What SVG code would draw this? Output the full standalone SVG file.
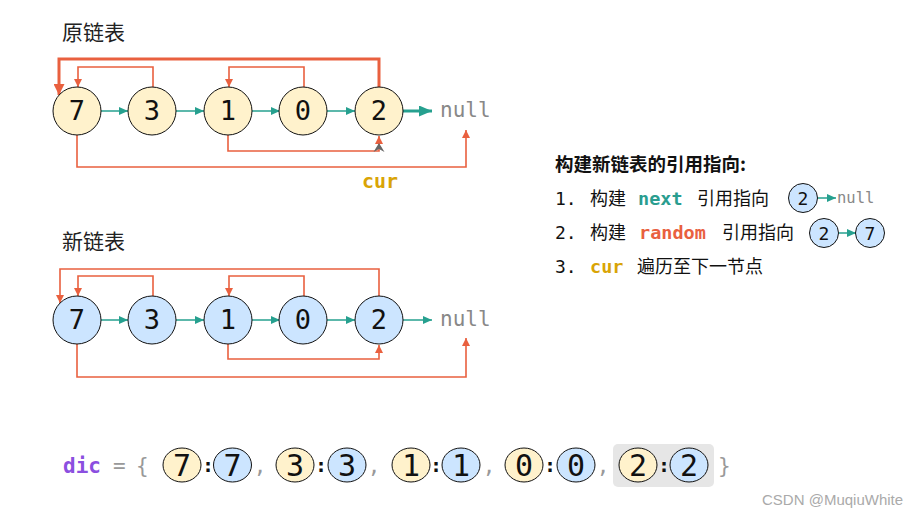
<svg xmlns="http://www.w3.org/2000/svg" width="919" height="518" viewBox="0 0 919 518">
<defs>
<style>
.mono{font-family:"DejaVu Sans Mono","Liberation Mono",monospace}
.cjk{font-family:"Noto Sans CJK SC","Noto Sans",sans-serif}
.y{fill:#fff2cc;stroke:#111;stroke-width:1}
.b{fill:#cce5ff;stroke:#111;stroke-width:1}
.num{font-family:"DejaVu Sans Mono","Liberation Mono",monospace;font-size:27px;fill:#111;text-anchor:middle}
.dnum{font-family:"DejaVu Sans Mono","Liberation Mono",monospace;font-size:30px;fill:#111;text-anchor:middle}
.snum{font-family:"DejaVu Sans Mono","Liberation Mono",monospace;font-size:18px;fill:#111;text-anchor:middle}
.nx{stroke:#26a08f;stroke-width:1.5;fill:none;marker-end:url(#tealA)}
.rd{stroke:#e9603f;stroke-width:1.6;fill:none;marker-end:url(#redA)}
.null{font-family:"DejaVu Sans Mono","Liberation Mono",monospace;font-size:21px;fill:#888}
.g{fill:#999}
</style>
<marker id="tealA" markerUnits="userSpaceOnUse" markerWidth="9" markerHeight="8" refX="9" refY="4" orient="auto"><path d="M0,0 L9,4 L0,8 z" fill="#26a08f"/></marker>
<marker id="tealB" markerUnits="userSpaceOnUse" markerWidth="13" markerHeight="11" refX="13" refY="5.5" orient="auto"><path d="M0,0 L13,5.5 L0,11 z" fill="#26a08f"/></marker>
<marker id="redA" markerUnits="userSpaceOnUse" markerWidth="8" markerHeight="8" refX="8" refY="4" orient="auto"><path d="M0,0 L8,4 L0,8 z" fill="#e9603f"/></marker>
<marker id="redB" markerUnits="userSpaceOnUse" markerWidth="11" markerHeight="11" refX="11" refY="5.5" orient="auto"><path d="M0,0 L11,5.5 L0,11 z" fill="#e9603f"/></marker>
</defs>
<rect width="919" height="518" fill="#ffffff"/>

<text x="62" y="40" class="cjk" font-size="21" fill="#222">原链表</text>
<text x="62" y="249" class="cjk" font-size="21" fill="#222">新链表</text>

<g id="connectors">
<line class="nx" x1="101" y1="111" x2="128" y2="111"/>
<line class="nx" x1="176" y1="111" x2="204" y2="111"/>
<line class="nx" x1="252" y1="111" x2="280" y2="111"/>
<line class="nx" x1="327" y1="111" x2="355" y2="111"/>
<line x1="403" y1="111" x2="432" y2="111" stroke="#26a08f" stroke-width="3" marker-end="url(#tealB)"/>
<path d="M379,87 V59 H59 V95" stroke="#e9603f" stroke-width="3" fill="none" marker-end="url(#redB)"/>
<path class="rd" d="M153,87 V67 H78 V87"/>
<path class="rd" d="M304,87 V67 H229 V87"/>
<path class="rd" d="M77,135 V167 H466 V130"/>
<path class="rd" d="M228,135 V151 H379 V136"/>
<polygon points="379,143 384.5,152 379,149 373.5,152" fill="#666"/>
<line class="nx" x1="101" y1="320" x2="128" y2="320"/>
<line class="nx" x1="176" y1="320" x2="204" y2="320"/>
<line class="nx" x1="252" y1="320" x2="280" y2="320"/>
<line class="nx" x1="327" y1="320" x2="355" y2="320"/>
<line class="nx" x1="403" y1="320" x2="432" y2="320"/>
<path class="rd" d="M379,296 V269 H60 V303"/>
<path class="rd" d="M153,296 V276 H78 V296"/>
<path class="rd" d="M304,296 V276 H229 V296"/>
<path class="rd" d="M77,344 V377 H466 V338"/>
<path class="rd" d="M228,344 V359 H379 V345"/>
<line class="nx" x1="818" y1="198" x2="836" y2="198"/>
<line class="nx" x1="839" y1="233" x2="856" y2="233"/>
</g>

<text x="362" y="188" class="mono" font-size="20" font-weight="bold" fill="#d9a406">cur</text>

<g id="o7"><circle class="y" cx="77" cy="111" r="24"/><text class="num" x="77" y="120">7</text></g>
<g id="o3"><circle class="y" cx="152" cy="111" r="24"/><text class="num" x="152" y="120">3</text></g>
<g id="o1"><circle class="y" cx="228" cy="111" r="24"/><text class="num" x="228" y="120">1</text></g>
<g id="o0"><circle class="y" cx="303" cy="111" r="24"/><text class="num" x="303" y="120">0</text></g>
<g id="o2"><circle class="y" cx="379" cy="111" r="24"/><text class="num" x="379" y="120">2</text></g>
<g id="onull"><text class="null" x="440" y="117">null</text></g>

<g id="n7"><circle class="b" cx="77" cy="320" r="24"/><text class="num" x="77" y="329">7</text></g>
<g id="n3"><circle class="b" cx="152" cy="320" r="24"/><text class="num" x="152" y="329">3</text></g>
<g id="n1"><circle class="b" cx="228" cy="320" r="24"/><text class="num" x="228" y="329">1</text></g>
<g id="n0"><circle class="b" cx="303" cy="320" r="24"/><text class="num" x="303" y="329">0</text></g>
<g id="n2"><circle class="b" cx="379" cy="320" r="24"/><text class="num" x="379" y="329">2</text></g>
<g id="nnull"><text class="null" x="440" y="326">null</text></g>

<g id="legend">
<text x="555" y="171" class="cjk" font-size="18.5" font-weight="bold" fill="#111">构建新链表的引用指向:</text>
<text x="555" y="205" class="mono" font-size="18" fill="#111">1.</text>
<text x="590" y="205" class="cjk" font-size="18" fill="#111">构建</text>
<text x="638" y="205" class="mono" font-size="18.5" font-weight="bold" fill="#2a9d8f">next</text>
<text x="697" y="205" class="cjk" font-size="18" fill="#111">引用指向</text>
<g id="l2a"><circle class="b" cx="803" cy="198" r="14.5"/><text class="snum" x="803" y="205">2</text></g>
<text x="837" y="203" class="mono" font-size="15.5" fill="#888">null</text>

<text x="555" y="239" class="mono" font-size="18" fill="#111">2.</text>
<text x="590" y="239" class="cjk" font-size="18" fill="#111">构建</text>
<text x="639" y="239" class="mono" font-size="18.5" font-weight="bold" fill="#e9603f">random</text>
<text x="722" y="239" class="cjk" font-size="18" fill="#111">引用指向</text>
<g id="l2b"><circle class="b" cx="824" cy="233" r="14.5"/><text class="snum" x="824" y="240">2</text></g>
<g id="l7"><circle class="b" cx="870" cy="233" r="14.5"/><text class="snum" x="870" y="240">7</text></g>

<text x="555" y="273" class="mono" font-size="18" fill="#111">3.</text>
<text x="590" y="273" class="mono" font-size="18.5" font-weight="bold" fill="#d9a406">cur</text>
<text x="637" y="273" class="cjk" font-size="18" fill="#111">遍历至下一节点</text>
</g>

<g id="dic">
<rect x="613" y="444" width="101" height="43" rx="5" fill="#e6e6e6"/>
<text x="63" y="473" class="mono" font-size="21" font-weight="bold" fill="#8b4fe0">dic</text>
<text x="113" y="473" class="mono g" font-size="21">=</text>
<text x="136" y="473" class="mono g" font-size="21">{</text>
<text x="718" y="473" class="mono g" font-size="21">}</text>

<g id="d7"><ellipse class="y" cx="182" cy="465" rx="19" ry="17"/><text class="dnum" x="182" y="476">7</text>
<text x="208" y="472" class="mono" font-size="20" font-weight="bold" fill="#111" text-anchor="middle">:</text>
<ellipse class="b" cx="232.5" cy="465" rx="19" ry="17"/><text class="dnum" x="232.5" y="476">7</text>
<text x="260" y="473" class="mono g" font-size="21" text-anchor="middle">,</text></g>

<g id="d3"><ellipse class="y" cx="295" cy="465" rx="19" ry="17"/><text class="dnum" x="295" y="476">3</text>
<text x="321" y="472" class="mono" font-size="20" font-weight="bold" fill="#111" text-anchor="middle">:</text>
<ellipse class="b" cx="347" cy="465" rx="19" ry="17"/><text class="dnum" x="347" y="476">3</text>
<text x="374" y="473" class="mono g" font-size="21" text-anchor="middle">,</text></g>

<g id="d1"><ellipse class="y" cx="411" cy="465" rx="19" ry="17"/><text class="dnum" x="411" y="476">1</text>
<text x="436" y="472" class="mono" font-size="20" font-weight="bold" fill="#111" text-anchor="middle">:</text>
<ellipse class="b" cx="461" cy="465" rx="19" ry="17"/><text class="dnum" x="461" y="476">1</text>
<text x="489" y="473" class="mono g" font-size="21" text-anchor="middle">,</text></g>

<g id="d0"><ellipse class="y" cx="524" cy="465" rx="19" ry="17"/><text class="dnum" x="524" y="476">0</text>
<text x="550" y="472" class="mono" font-size="20" font-weight="bold" fill="#111" text-anchor="middle">:</text>
<ellipse class="b" cx="576" cy="465" rx="19" ry="17"/><text class="dnum" x="576" y="476">0</text>
<text x="603" y="473" class="mono g" font-size="21" text-anchor="middle">,</text></g>

<g id="d2"><ellipse class="y" cx="638" cy="465" rx="19" ry="17"/><text class="dnum" x="638" y="476">2</text>
<text x="664" y="472" class="mono" font-size="20" font-weight="bold" fill="#111" text-anchor="middle">:</text>
<ellipse class="b" cx="689" cy="465" rx="19" ry="17"/><text class="dnum" x="689" y="476">2</text></g>
</g>

<text x="762" y="505" font-family="Liberation Sans, Arial, sans-serif" font-size="15" fill="#aaa">CSDN @MuqiuWhite</text>
</svg>
